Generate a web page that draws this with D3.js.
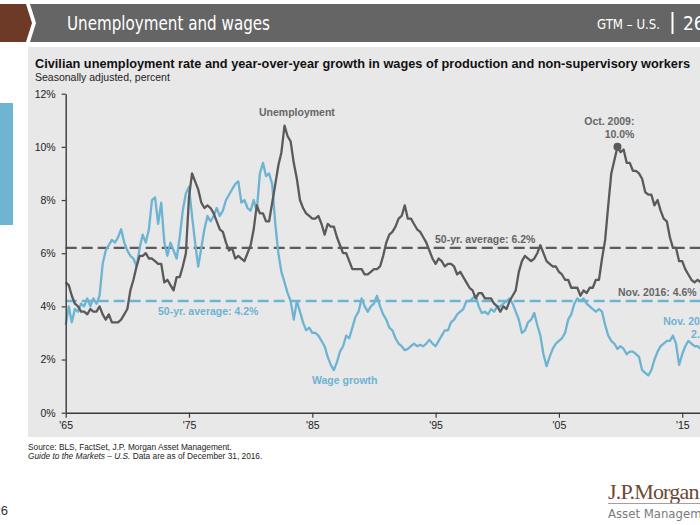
<!DOCTYPE html>
<html><head><meta charset="utf-8">
<script src="https://cdn.jsdelivr.net/npm/d3@7"></script>
<style>
body{margin:0;background:#fff;}
svg{display:block;font-family:"Liberation Sans",Arial,sans-serif;}
</style>
</head><body><svg id="c" width="700" height="525"></svg>
<script>
// ---- data (quarterly samples: Jan, Apr, Jul, Oct) ----
const startYear = 1965;
const unemployment = [
 4.9,4.8,4.4,4.1, 4.0,3.8,3.8,3.7, 3.9,3.8,3.8,4.0, 3.7,3.5,3.7,3.4, 3.4,3.4,3.5,3.7,
 3.9,4.6,5.0,5.5, 5.9,5.9,6.0,5.8, 5.8,5.7,5.6,5.6, 4.9,5.0,4.8,4.6, 5.1,5.1,5.5,6.0,
 8.1,9.0,8.7,8.4, 7.9,7.7,7.8,7.7, 7.5,7.2,6.9,6.8, 6.4,6.1,6.2,5.8, 5.9,5.8,5.7,6.0,
 6.3,6.9,7.8,7.5, 7.5,7.2,7.2,7.9, 8.6,9.3,9.8,10.8, 10.4,10.2,9.4,8.8, 8.0,7.7,7.5,7.4,
 7.3,7.3,7.4,7.1, 6.7,7.1,7.0,7.0, 6.6,6.3,6.0,6.0, 5.7,5.4,5.4,5.4, 5.4,5.2,5.2,5.3,
 5.4,5.4,5.5,5.9, 6.4,6.7,6.8,7.0, 7.3,7.4,7.8,7.3, 7.3,7.1,6.9,6.8, 6.6,6.4,6.1,5.8,
 5.6,5.8,5.7,5.5, 5.6,5.6,5.5,5.2, 5.3,5.1,4.9,4.7, 4.6,4.3,4.5,4.5, 4.3,4.3,4.3,4.1,
 4.0,3.8,4.0,3.9, 4.2,4.4,4.6,5.3, 5.7,5.9,5.8,5.7, 5.8,6.0,6.3,6.0, 5.7,5.6,5.5,5.5,
 5.3,5.2,5.0,5.0, 4.7,4.7,4.7,4.4, 4.6,4.5,4.7,4.7, 5.0,5.0,5.8,6.5, 7.8,9.0,9.5,10.0,
 9.8,9.9,9.4,9.4, 9.1,9.1,9.0,8.8, 8.3,8.2,8.2,7.8, 8.0,7.6,7.3,7.2, 6.6,6.2,6.2,5.7,
 5.7,5.4,5.2,5.0, 4.9,5.0,4.9,4.8
];
const wageGrowth = [
 3.3,4.0,3.4,3.9, 3.8,4.1,4.0,4.3, 4.0,4.3,4.1,4.4, 5.6,6.1,6.3,6.5, 6.4,6.6,6.9,6.4,
 6.1,5.9,5.8,5.5, 6.2,6.7,6.4,6.9, 8.0,8.1,7.1,7.9, 6.4,5.9,6.4,6.1, 5.8,6.6,7.6,8.25,
 8.5,7.4,6.4,5.5, 6.2,6.9,7.4,7.2, 7.4,7.7,7.4,7.6, 8.0,8.2,8.4,8.6, 8.7,7.9,8.0,7.7,
 7.6,8.0,7.6,9.0, 9.4,8.9,9.0,8.6, 7.1,6.0,5.3,4.9, 4.5,4.2,3.5,4.2, 3.8,3.4,3.1,3.2,
 3.0,3.0,2.9,2.7, 2.5,2.1,1.8,1.6, 1.9,2.3,2.5,2.9, 2.8,3.2,3.6,3.8, 4.3,4.0,3.8,4.0,
 4.1,4.4,4.0,3.7, 3.5,3.2,3.1,2.8, 2.6,2.5,2.35,2.4, 2.5,2.6,2.5,2.55, 2.5,2.6,2.75,2.6,
 2.5,2.7,2.9,3.1, 3.1,3.4,3.5,3.7, 3.8,3.9,4.2,4.2, 4.3,4.4,4.0,3.75, 3.8,3.7,3.9,3.8,
 4.0,4.0,4.1,4.2, 4.3,4.1,3.8,3.5, 3.0,3.1,3.4,3.5, 3.75,3.3,2.9,2.2, 1.75,2.1,2.4,2.6,
 2.7,2.8,3.0,3.5, 3.7,4.1,4.3,4.2, 4.3,4.1,4.0,3.9, 3.8,3.9,3.8,3.3, 2.9,2.7,2.6,2.4,
 2.5,2.4,2.2,2.3, 2.3,2.2,2.1,1.6, 1.5,1.4,1.6,2.0, 2.3,2.5,2.6,2.7, 2.7,2.9,2.6,1.8,
 2.2,2.5,2.7,2.6, 2.5,2.5,2.4,2.4
];
const unempAverage = 6.2;
const wageAverage = 4.2;
const yTicks = [0, 2, 4, 6, 8, 10, 12];
const xTickYears = [1965, 1975, 1985, 1995, 2005, 2015];
const peakPoint = {year: 2009, month: 9, value: 10.0};

// ---- drawing ----
const svg = d3.select("#c");
const GRAY = "#5a5a5a", BLUE = "#6db3d2", LABEL_GRAY = "#666666";

// header
svg.append("polygon").attr("points","0,4 26,4 32,23 26,42 0,42").attr("fill","#6d3a28");
svg.append("polygon").attr("points","30,4 700,4 700,42 30,42 36,23").attr("fill","#656565");
svg.append("text").attr("x",67).attr("y",30)
  .attr("font-family","'Liberation Sans Narrow','DejaVu Sans Condensed','Liberation Sans',sans-serif")
  .attr("font-size",19).attr("fill","#fff").attr("textLength",203).attr("lengthAdjust","spacingAndGlyphs")
  .text("Unemployment and wages");
svg.append("text").attr("x",597).attr("y",29)
  .attr("font-family","'Liberation Sans Narrow','DejaVu Sans Condensed','Liberation Sans',sans-serif")
  .attr("font-size",14).attr("fill","#fff").attr("textLength",63).attr("lengthAdjust","spacingAndGlyphs")
  .text("GTM – U.S.");
svg.append("line").attr("x1",672.5).attr("x2",672.5).attr("y1",12).attr("y2",34).attr("stroke","#fff").attr("stroke-width",2);
svg.append("text").attr("x",683).attr("y",30)
  .attr("font-family","'Liberation Sans Narrow','DejaVu Sans Condensed','Liberation Sans',sans-serif")
  .attr("font-size",19).attr("fill","#fff").text("26");

// left tab
svg.append("rect").attr("x",0).attr("y",103).attr("width",13).attr("height",122).attr("fill","#6fb4d0");

// panel
svg.append("rect").attr("x",28).attr("y",47).attr("width",680).attr("height",390).attr("fill","#e8e8e8");
svg.append("text").attr("x",35).attr("y",68).attr("font-size",12).attr("font-weight","bold").attr("fill","#111")
  .attr("textLength",655).attr("lengthAdjust","spacingAndGlyphs")
  .text("Civilian unemployment rate and year-over-year growth in wages of production and non-supervisory workers");
svg.append("text").attr("x",35).attr("y",81).attr("font-size",10.5).attr("fill","#222")
  .text("Seasonally adjusted, percent");

// scales
const x = d3.scaleTime().domain([new Date(1965,0,1), new Date(2017,0,1)]).range([65.7, 706.9]);
const y = d3.scaleLinear().domain([0,12]).range([412.7, 93.7]);
const dateAt = i => new Date(startYear + Math.floor(i/4), (i%4)*3, 1);

// average dashed lines
const plotRight = 700;
svg.append("line").attr("x1",x.range()[0]).attr("x2",plotRight).attr("y1",y(unempAverage)).attr("y2",y(unempAverage))
  .attr("stroke",GRAY).attr("stroke-width",2.4).attr("stroke-dasharray","11,5");
svg.append("line").attr("x1",x.range()[0]).attr("x2",plotRight).attr("y1",y(wageAverage)).attr("y2",y(wageAverage))
  .attr("stroke",BLUE).attr("stroke-width",2.4).attr("stroke-dasharray","11,5");

// lines
const line = d3.line().x((d,i)=>x(dateAt(i))).y(d=>y(d));
svg.append("path").datum(wageGrowth).attr("d",line).attr("fill","none")
  .attr("stroke",BLUE).attr("stroke-width",2.3).attr("stroke-linejoin","round");
svg.append("path").datum(unemployment).attr("d",line).attr("fill","none")
  .attr("stroke",GRAY).attr("stroke-width",2.3).attr("stroke-linejoin","round");

// axes
const yAxis = svg.append("g").attr("transform",`translate(${x.range()[0]},0)`)
  .call(d3.axisLeft(y).tickValues(yTicks).tickSize(4).tickSizeOuter(0).tickPadding(6).tickFormat(d=>d+"%"));
const xAxis = svg.append("g").attr("transform",`translate(0,${y(0)})`)
  .call(d3.axisBottom(x).tickValues(xTickYears.map(v=>new Date(v,0,1))).tickSize(5).tickSizeOuter(0).tickPadding(4)
    .tickFormat(d=>"'"+String(d.getFullYear()).slice(2)));
[yAxis,xAxis].forEach(g=>{
  g.select(".domain").attr("stroke","#3a3a3a").attr("stroke-width",1.4);
  g.selectAll(".tick line").attr("stroke","#3a3a3a").attr("stroke-width",1.2);
  g.selectAll(".tick text").attr("font-size",10.5).attr("fill","#222").attr("font-family","'Liberation Sans',Arial,sans-serif");
});

// peak marker
const pd = new Date(peakPoint.year, peakPoint.month, 1);
svg.append("circle").attr("cx",x(pd)).attr("cy",y(peakPoint.value)).attr("r",4).attr("fill",GRAY);

// annotations
function label(txt, px, py, color, anchor){
  svg.append("text").attr("x",px).attr("y",py).attr("font-size",10.5).attr("font-weight","bold")
    .attr("fill",color).attr("text-anchor",anchor||"start").text(txt);
}
label("Unemployment", 259, 115.5, LABEL_GRAY);
label("Oct. 2009:", x(pd)+17, 125, LABEL_GRAY, "end");
label(peakPoint.value.toFixed(1)+"%", x(pd)+17, 138, LABEL_GRAY, "end");
label("50-yr. average: "+unempAverage+"%", 435, 243, LABEL_GRAY);
label("50-yr. average: "+wageAverage+"%", 158, 314.5, BLUE);
label("Wage growth", 312, 384, BLUE);
label("Nov. 2016: 4.6%", 618, 296, LABEL_GRAY);
label("Nov. 2016:", 715, 325, BLUE, "end");
label("2.4%", 715, 338, BLUE, "end");

// source
svg.append("text").attr("x",28).attr("y",450).attr("font-size",8.3).attr("fill","#222")
  .text("Source: BLS, FactSet, J.P. Morgan Asset Management.");
const s2 = svg.append("text").attr("x",28).attr("y",459).attr("font-size",8.3).attr("fill","#222");
s2.append("tspan").attr("font-style","italic").text("Guide to the Markets – U.S.");
s2.append("tspan").text(" Data are as of December 31, 2016.");

// page number
svg.append("text").attr("x",8).attr("y",515).attr("font-size",13).attr("fill","#333").attr("text-anchor","end").text("26");

// logo
svg.append("text").attr("x",608).attr("y",499).attr("font-family","'Liberation Serif','DejaVu Serif',serif")
  .attr("font-size",22).attr("fill","#6b4a36").attr("letter-spacing",-0.8).text("J.P.Morgan");
svg.append("line").attr("x1",608).attr("x2",700).attr("y1",503.5).attr("y2",503.5).attr("stroke","#a0a0a0").attr("stroke-width",1);
svg.append("text").attr("x",608).attr("y",518)
  .attr("font-family","'Liberation Sans Narrow','DejaVu Sans Condensed','Liberation Sans',sans-serif")
  .attr("font-size",13).attr("fill","#7a7a7a").text("Asset Management");
</script>
</body></html>
